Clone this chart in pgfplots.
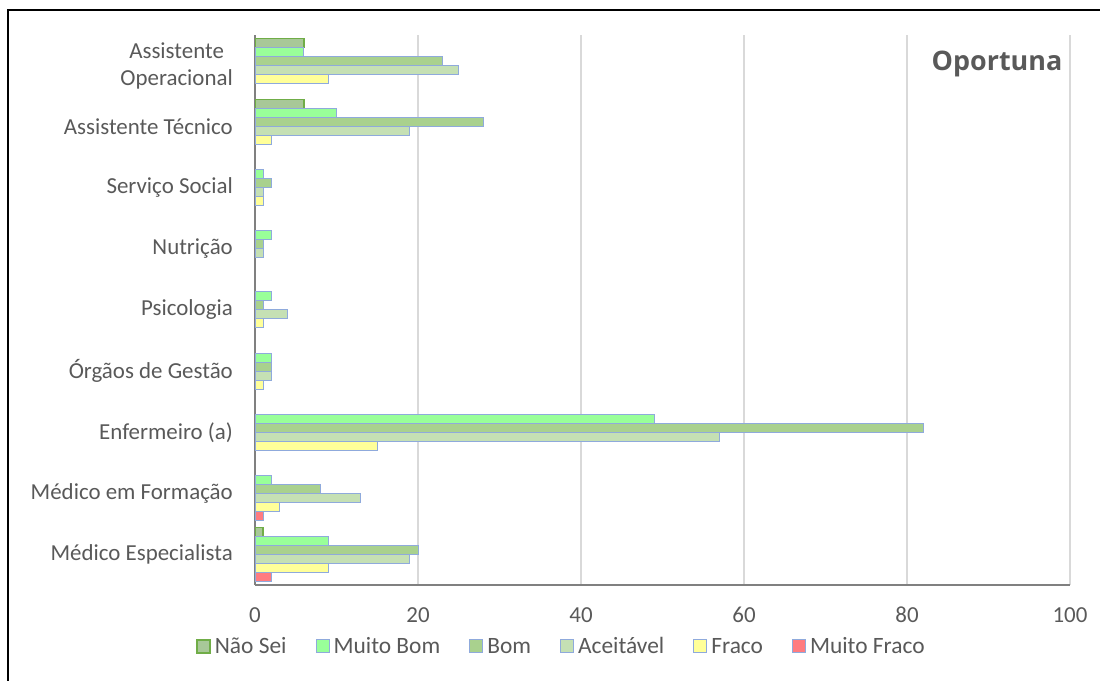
\documentclass[border=0pt]{standalone}
\usepackage{fontspec}
\setmainfont{Carlito}
\newfontfamily\titlefont{Open Sans}
\usepackage{pgfplots}
\pgfplotsset{compat=1.18}
\definecolor{txt}{HTML}{595959}
\definecolor{gridc}{HTML}{D9D9D9}
\definecolor{axc}{HTML}{808080}
\definecolor{bord}{HTML}{8FAADC}
\definecolor{nsfill}{HTML}{A8C898}
\definecolor{nsbord}{HTML}{70AD47}
\definecolor{mbfill}{HTML}{99FF99}
\definecolor{bomfill}{HTML}{A9D18E}
\definecolor{acfill}{HTML}{C5E0B4}
\definecolor{frfill}{HTML}{FFFF99}
\definecolor{mffill}{HTML}{FF7C80}
\begin{document}
\begin{tikzpicture}[x=1bp,y=1bp]
\path[use as bounding box] (0,0) rectangle (1100,681);
\draw[line width=1.5bp] (8,0) -- (8,671) -- (1100,671);
\begin{axis}[
  at={(255bp,96bp)}, anchor=south west,
  width=815bp, height=550bp, scale only axis,
  xmin=0, xmax=100, ymin=-0.5, ymax=8.5,
  xtick={0,20,40,60,80,100},
  ytick={0,1,2,3,4,5,6,7,8},
  yticklabels={Médico Especialista, Médico em Formação, Enfermeiro (a), Órgãos de Gestão, Psicologia, Nutrição, Serviço Social, Assistente Técnico, {Assistente \\ Operacional}},
  /pgf/number format/assume math mode=true,
  major tick length=0pt,
  xmajorgrids,
  grid style={draw=gridc, line width=1.5bp},
  axis x line*=bottom, axis y line*=left,
  axis line style={-, draw=axc, line width=1.5bp},
  tick label style={font=\fontsize{23}{27}\selectfont, text=txt},
  yticklabel style={align=center, inner sep=0pt, xshift=-22bp},
  xticklabel style={inner sep=0pt, yshift=-22bp},
  xbar, bar width=9bp,
  legend style={at={(0.3773,-0.1145)}, anchor=center, legend columns=6, draw=none,
    font=\fontsize{23.5}{27}\selectfont, text=txt,
    nodes={inner xsep=4bp, inner ysep=0pt, text height=17bp, text depth=5bp},
    /tikz/every even column/.append style={column sep=25bp}},
  legend cell align=left,
  legend image code/.code={\draw[#1] (0bp,-5bp) rectangle (13bp,8bp);},
]
\addplot[fill=nsfill, draw=nsbord, line width=1.5bp, bar shift=22.5bp] coordinates {(1,0) (6,7) (6,8)};
\addplot[fill=mbfill, draw=bord, line width=1bp, bar shift=13.5bp] coordinates {(9,0) (2,1) (49,2) (2,3) (2,4) (2,5) (1,6) (10,7) (6,8)};
\addplot[fill=bomfill, draw=bord, line width=1bp, bar shift=4.5bp] coordinates {(20,0) (8,1) (82,2) (2,3) (1,4) (1,5) (2,6) (28,7) (23,8)};
\addplot[fill=acfill, draw=bord, line width=1bp, bar shift=-4.5bp] coordinates {(19,0) (13,1) (57,2) (2,3) (4,4) (1,5) (1,6) (19,7) (25,8)};
\addplot[fill=frfill, draw=bord, line width=1bp, bar shift=-13.5bp] coordinates {(9,0) (3,1) (15,2) (1,3) (1,4) (1,6) (2,7) (9,8)};
\addplot[fill=mffill, draw=bord, line width=1bp, bar shift=-22.5bp] coordinates {(2,0) (1,1)};
\legend{Não Sei, Muito Bom, Bom, Aceitável, Fraco, Muito Fraco}
\end{axis}
\node[font=\titlefont\bfseries\fontsize{27}{31}\selectfont, text=txt, anchor=base, inner sep=0pt] at (997,610) {Oportuna};
\end{tikzpicture}
\end{document}
